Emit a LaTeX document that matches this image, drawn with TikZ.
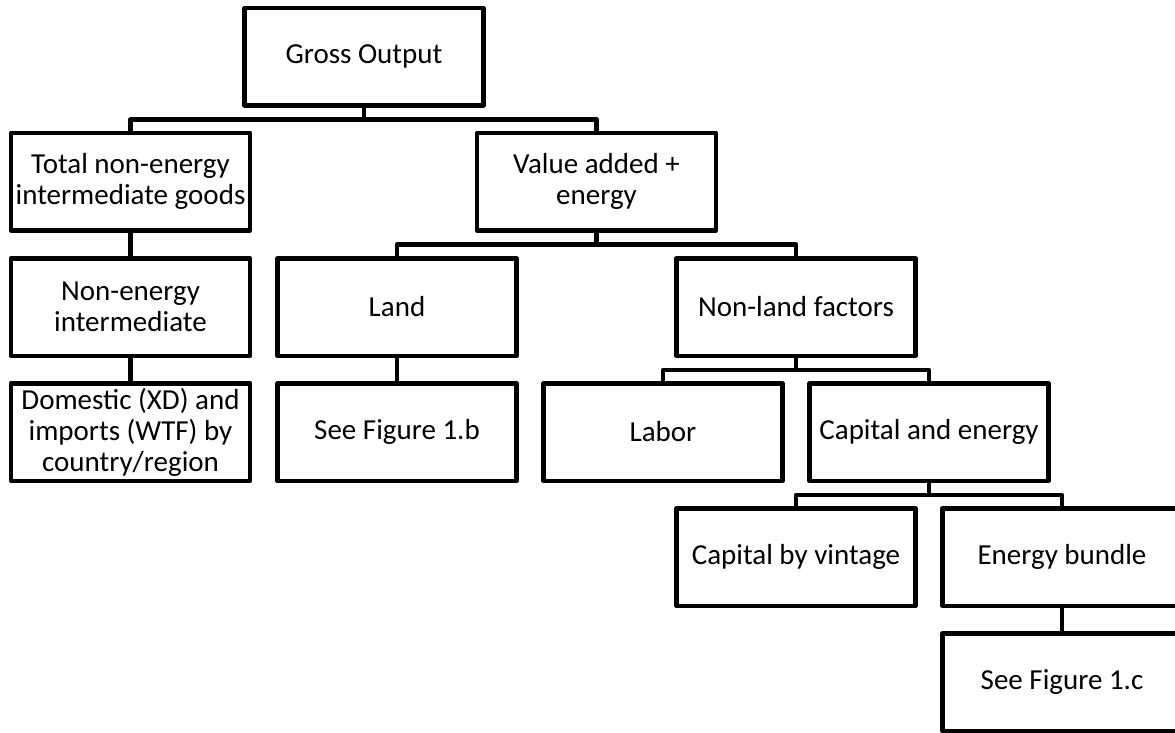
\documentclass[tikz,border=0pt]{standalone}
\usepackage{fontspec}
\setmainfont{Carlito}
\usepackage{tikz}

\begin{document}
\begin{tikzpicture}
  [x=1pt,y=-1pt,every node/.style={draw,line width=4.5pt,line join=round,minimum width=239pt,minimum height=97.5pt,inner sep=1pt,align=center,font=\fontsize{29}{31}\selectfont}]
  \useasboundingbox (0,0) rectangle (1175,732);
  \clip (0,0) rectangle (1175,732);
  \node (go) at (364,56.5) {Gross Output};
  \node (tni) at (130.5,181.5) {Total non-energy\\intermediate goods};
  \node (va) at (596.5,181.5) {Value added +\\energy};
  \node (nei) at (130.5,307) {Non-energy\\intermediate};
  \node (land) at (397,307) {Land};
  \node (nonland) at (796,307) {Non-land factors};
  \node (dom) at (130.5,432) {Domestic (XD) and\\imports (WTF) by\\country/region};
  \node (seeb) at (397,432) {See Figure 1.b};
  \node (labor) at (663,432) {Labor};
  \node (ce) at (929,432) {Capital and energy};
  \node (cap) at (796,557) {Capital by vintage};
  \node (eb) at (1062,557) {Energy bundle};
  \node (seec) at (1062,682) {See Figure 1.c};
  \foreach \from/\to in {go/tni,go/va,tni/nei,nei/dom,va/land,va/nonland,land/seeb,
    nonland/labor,nonland/ce,ce/cap,ce/eb,eb/seec}
   \draw[line width=4.5pt,line join=round] (\from.south) -- ++(0,12) -| (\to.north);

\end{tikzpicture}
\end{document}
